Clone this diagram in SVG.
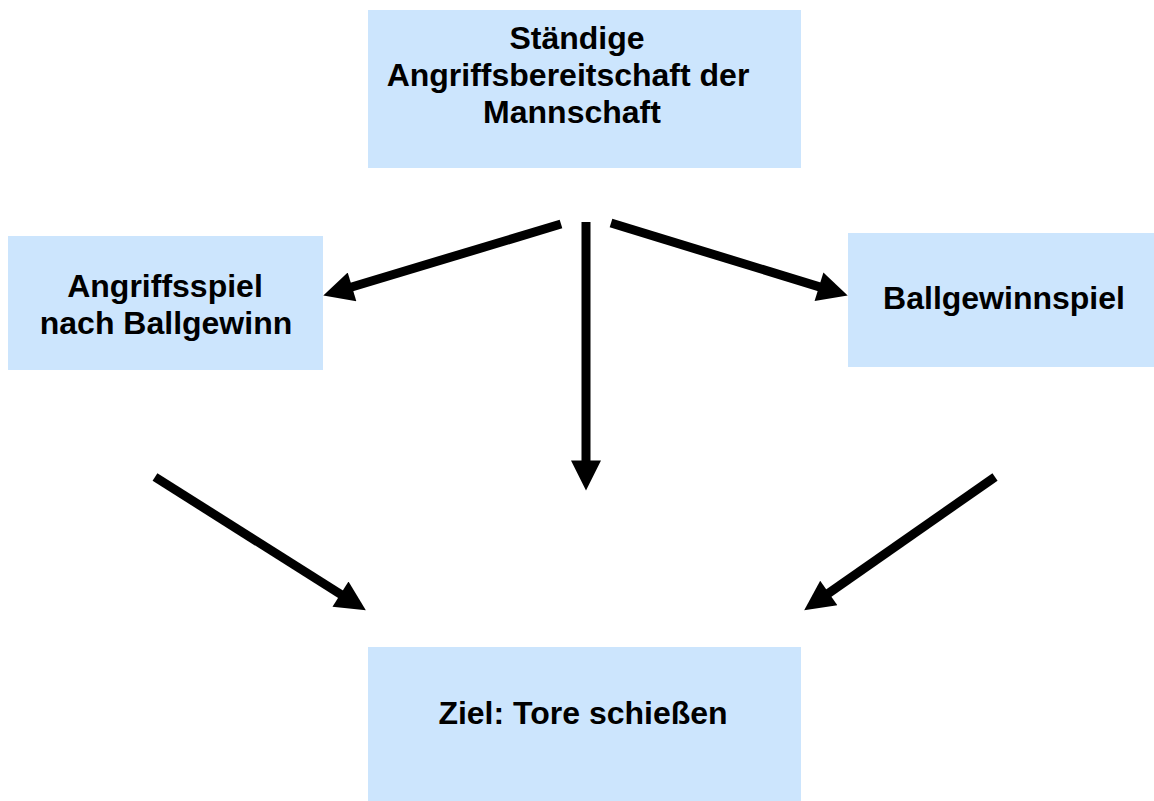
<svg xmlns="http://www.w3.org/2000/svg" width="1154" height="801" viewBox="0 0 1154 801">
<defs>
<style>
.box{fill:#cce5fd;}
.t{font-family:"Liberation Sans",Arial,sans-serif;font-weight:bold;font-size:32px;fill:#000;text-anchor:middle;}
.c{stroke:#000;stroke-width:9;fill:none;}
</style>
<marker id="ah" viewBox="0 0 10 10" refX="3" refY="5" markerUnits="userSpaceOnUse" markerWidth="32" markerHeight="30" orient="auto">
<path d="M0,0 L10,5 L0,10 z" fill="#000"/>
</marker>
</defs>
<rect width="1154" height="801" fill="#fff"/>
<g id="node-top">
<rect class="box" x="368" y="10" width="433" height="158"/>
<text class="t" x="577" y="49">Ständige</text>
<text class="t" x="568" y="86">Angriffsbereitschaft der</text>
<text class="t" x="572" y="123">Mannschaft</text>
</g>
<g id="node-left">
<rect class="box" x="8" y="236" width="315" height="134"/>
<text class="t" x="165" y="297">Angriffsspiel</text>
<text class="t" x="166" y="334">nach Ballgewinn</text>
</g>
<g id="node-right">
<rect class="box" x="848" y="233" width="306" height="134"/>
<text class="t" x="1004" y="309">Ballgewinnspiel</text>
</g>
<g id="node-bottom">
<rect class="box" x="368" y="647" width="433" height="154"/>
<text class="t" x="583" y="724">Ziel: Tore schießen</text>
</g>
<g id="connectors">
<line class="c" x1="561" y1="224" x2="343.4" y2="289.5" marker-end="url(#ah)"/>
<line class="c" x1="611" y1="223" x2="827.6" y2="289.4" marker-end="url(#ah)"/>
<line class="c" x1="586" y1="222" x2="586" y2="469.6" marker-end="url(#ah)"/>
<line class="c" x1="155" y1="477" x2="348.1" y2="599" marker-end="url(#ah)"/>
<line class="c" x1="995" y1="477" x2="821.4" y2="598.2" marker-end="url(#ah)"/>
</g>
</svg>
